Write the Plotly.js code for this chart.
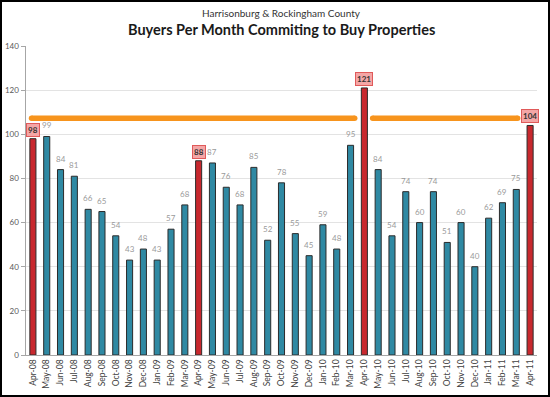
<!DOCTYPE html>
<html>
<head>
<meta charset="utf-8">
<script src="https://cdn.plot.ly/plotly-3.0.1.min.js"></script>
<style>
html,body{margin:0;padding:0;background:#fff;}
#chart{width:550px;height:397px;box-sizing:border-box;border:2px solid #000;overflow:hidden;}
</style>
</head>
<body>
<div id="chart"></div>
<script>
const months = ["Apr-08","May-08","Jun-08","Jul-08","Aug-08","Sep-08","Oct-08","Nov-08","Dec-08","Jan-09","Feb-09","Mar-09",
  "Apr-09","May-09","Jun-09","Jul-09","Aug-09","Sep-09","Oct-09","Nov-09","Dec-09","Jan-10","Feb-10","Mar-10",
  "Apr-10","May-10","Jun-10","Jul-10","Aug-10","Sep-10","Oct-10","Nov-10","Dec-10","Jan-11","Feb-11","Mar-11","Apr-11"];
const buyers = [98,99,84,81,66,65,54,43,48,43,57,68,
  88,87,76,68,85,52,78,55,45,59,48,95,
  121,84,54,74,60,74,51,60,40,62,69,75,104];
const trend1X = [-0.1, 23.3];
const trend1Y = [107.3, 107.3];
const trend2X = [24.6, 35.1];
const trend2Y = [107.3, 107.3];

const idx = months.map((m,i)=>i);
const isApril = months.map(m=>m.startsWith("Apr"));
const teal = "#2F89A3", red = "#C8282E";

const bars = {
  type:"bar", x: idx, y: buyers, width: 0.44,
  marker:{color: isApril.map(a=>a?red:teal), line:{color:"#2b2b2b", width:1}},
  hoverinfo:"x+y", showlegend:false
};
const tl = (x,y)=>({type:"scatter", mode:"lines+markers", x:x, y:y,
  line:{color:"#F7941D", width:5.5}, marker:{color:"#F7941D", size:5.5}, showlegend:false, hoverinfo:"skip"});

const annotations = buyers.map((v,i)=> isApril[i] ? {
  x:i, y:v, xref:"x", yref:"y", text:"<b>"+v+"</b>", showarrow:false, yanchor:"bottom", yshift:2,
  font:{family:"Lato, 'Open Sans', sans-serif", size:8, color:"#333"},
  bgcolor:"#F4A6A6", bordercolor:"#E05A5A", borderwidth:1, borderpad:1
} : {
  x:i, y:v, xref:"x", yref:"y", text:String(v), showarrow:false, yanchor:"bottom", yshift:4,
  font:{family:"Lato, 'Open Sans', sans-serif", size:8, color:"#9a9a9a"}
});
annotations.push({xref:"paper", yref:"paper", x:0.5, y:1, yshift:33, xanchor:"center", yanchor:"middle",
  text:"Harrisonburg &amp; Rockingham County", showarrow:false,
  font:{family:"Lato, 'Open Sans', sans-serif", size:10, color:"#333"}});
annotations.push({xref:"paper", yref:"paper", x:0.5, y:1, yshift:17, xanchor:"center", yanchor:"middle",
  text:"<b>Buyers Per Month Commiting to Buy Properties</b>", showarrow:false,
  font:{family:"Lato, 'Open Sans', sans-serif", size:14.5, color:"#1a1a1a"}});

const layout = {
  width:546, height:393,
  margin:{l:24, r:11, t:44, b:40},
  paper_bgcolor:"#fff", plot_bgcolor:"#fff",
  font:{family:"Lato, 'Open Sans', sans-serif", size:8, color:"#595959"},
  xaxis:{range:[-0.5, 36.5], tickvals: idx, ticktext: months, tickangle:-90,
    showgrid:false, zeroline:false, showline:true, linecolor:"#a6a6a6", linewidth:1,
    ticks:"", tickfont:{size:8.5, color:"#404040"}, fixedrange:true},
  yaxis:{range:[0,140], dtick:20, showgrid:true, gridcolor:"#e3e3e3", zeroline:false,
    showline:true, linecolor:"#a6a6a6", linewidth:1.5, ticks:"outside", ticklen:4, tickcolor:"#a6a6a6",
    tickfont:{size:8, color:"#595959"}, fixedrange:true},
  annotations: annotations,
  bargap:0
};
Plotly.newPlot("chart", [bars, tl(trend1X,trend1Y), tl(trend2X,trend2Y)], layout, {displayModeBar:false, staticPlot:true});
</script>
</body>
</html>
